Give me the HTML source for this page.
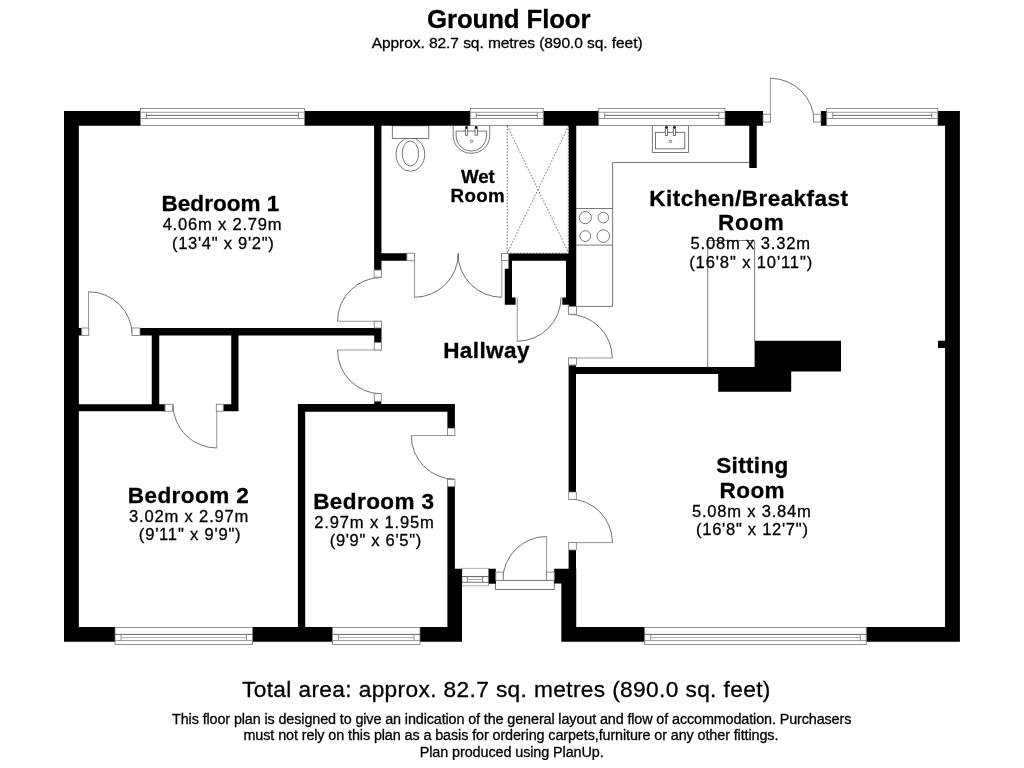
<!DOCTYPE html>
<html><head><meta charset="utf-8"><title>Ground Floor</title>
<style>
html,body{margin:0;padding:0;background:#fff;}
body{width:1024px;height:768px;overflow:hidden;font-family:"Liberation Sans",sans-serif;}
svg{display:block;will-change:transform;}
text{font-family:"Liberation Sans",sans-serif;fill:#000;stroke:#000;stroke-width:0.3px;}
</style></head><body>
<svg width="1024" height="768" viewBox="0 0 1024 768">
<rect width="1024" height="768" fill="#fff"/>
<g fill="none" stroke="#555" stroke-width="0.8">
<rect x="461.9" y="568.3" width="26.7" height="17.5" fill="#fff" stroke="#999"/>
<path d="M461.9 576.6H488.6" stroke="#333"/>
<path d="M461.9 582.3H488.6M467.3 576.6V582.3M482.7 576.6V582.3"/>
<path d="M467.3 579.5H482.7" stroke="#999"/>
<rect x="495.4" y="580.3" width="58.8" height="9.2" fill="#fff"/>
<ellipse cx="410.4" cy="154.4" rx="14.3" ry="16.9" fill="#fff"/>
<ellipse cx="410.4" cy="153.5" rx="8.2" ry="12.5"/>
<rect x="392.3" y="125.75" width="36.5" height="12.7" fill="#fff"/>
<path d="M453.2 125.75V136A18.25 17.3 0 0 0 489.7 136V125.75"/>
<path d="M456.1 131.1H486.5V136A15.2 15.1 0 0 1 456.1 136Z"/>
<rect x="465.3" y="128" width="2.4" height="7.2" fill="#fff"/>
<circle cx="466.5" cy="127.4" r="1.3" fill="#111" stroke="none"/>
<rect x="475.0" y="128" width="2.4" height="7.2" fill="#fff"/>
<circle cx="476.2" cy="127.4" r="1.3" fill="#111" stroke="none"/>
<circle cx="471.5" cy="141.3" r="1.2"/>
<path d="M507.2 125.75V253.2M568.3 125.75V253.2M507.2 253.2H568.75M507.2 125.75L568.75 253.2M568.75 125.75L507.2 253.2" stroke-dasharray="1.6 1.6"/>
<path d="M576.25 306.4H612.6V162.5H749.25"/>
<path d="M576.25 208.5H612.6M576.25 245.1H612.6"/>
<circle cx="585.3" cy="217.6" r="6.1"/>
<circle cx="603.3" cy="217.6" r="5.3"/>
<circle cx="585.3" cy="236.1" r="5.4"/>
<circle cx="603.3" cy="236.1" r="6.3"/>
<rect x="652.3" y="125.5" width="36.3" height="26.9"/>
<rect x="655.4" y="132.3" width="29.4" height="16.5"/>
<rect x="665.3" y="128" width="2.3" height="7.5" fill="#fff"/>
<circle cx="666.4499999999999" cy="127.3" r="1.3" fill="#111" stroke="none"/>
<rect x="673.3" y="128" width="2.3" height="7.5" fill="#fff"/>
<circle cx="674.4499999999999" cy="127.3" r="1.3" fill="#111" stroke="none"/>
<circle cx="670.5" cy="141.4" r="1.2"/>
<path d="M707.7 367V240.5H754.6V341"/>
</g>
<g fill="none" stroke="#333" stroke-width="0.7">
<path d="M88.5 335.5L88.5 291.75" stroke="#6a6a6a"/><path d="M88.5 291.75A43.75 43.75 0 0 1 132.25 335.5"/>
<path d="M216.75 404.25L216.75 448" stroke="#6a6a6a"/><path d="M216.75 448A43.75 43.75 0 0 1 173 404.25"/>
<path d="M381.25 321.25L337.5 321.25" stroke="#6a6a6a"/><path d="M337.5 321.25A43.75 43.75 0 0 1 381.25 277.5"/>
<path d="M381.25 350L337.5 350" stroke="#6a6a6a"/><path d="M337.5 350A43.75 43.75 0 0 0 381.25 393.75"/>
<path d="M414.5 253.5L414.5 297.25" stroke="#6a6a6a"/><path d="M414.5 297.25A43.75 43.75 0 0 0 458.25 253.5"/>
<path d="M501.75 253.5L501.75 297.25" stroke="#6a6a6a"/><path d="M501.75 297.25A43.75 43.75 0 0 1 458 253.5"/>
<path d="M517.25 297.5L517.25 341.25" stroke="#6a6a6a"/><path d="M517.25 341.25A43.75 43.75 0 0 0 561 297.5"/>
<path d="M568.5 358L612.25 358" stroke="#6a6a6a"/><path d="M612.25 358A43.75 43.75 0 0 0 568.5 314.25"/>
<path d="M568.7 542.6L612.45 542.6" stroke="#6a6a6a"/><path d="M612.45 542.6A43.75 43.75 0 0 0 568.7 498.85"/>
<path d="M454.9 435.5L411.2 435.5" stroke="#6a6a6a"/><path d="M411.2 435.5A43.75 43.75 0 0 0 454.9 479.2"/>
<path d="M546.6 580.3L546.6 536.5" stroke="#6a6a6a"/><path d="M546.6 536.5A43.8 43.8 0 0 0 502.8 580.3"/>
<path d="M770.4 122.1L770.4 78.3" stroke="#6a6a6a"/><path d="M770.4 78.3A43.8 43.8 0 0 1 814.2 122.1"/>
</g>
<g fill="#000" stroke="none">
<path d="M64.0 111.05H78.85V641.7H64.0ZM945.05 111.05H959.9V641.7H945.05ZM64.0 111.05H140.5V125.85H64.0ZM304.5 111.05H470.25V125.85H304.5ZM543.25 111.05H598.75V125.85H543.25ZM725 111.05H763V125.85H725ZM820.9 111.05H826.75V125.85H820.9ZM937.8 111.05H959.9V125.85H937.8ZM64.0 627.1H115V641.7H64.0ZM252.5 627.1H332.5V641.7H252.5ZM420 627.1H462V641.7H420ZM561.3 627.1H644.7V641.7H561.3ZM866.25 627.1H959.9V641.7H866.25ZM447.4 568.7H462V641.7H447.4ZM561.3 568.7H576.25V641.7H561.3ZM488.7 568.7H495.8V583.7H488.7ZM554.2 568.7H576.25V583.6H554.2ZM374.1 125.85H381.45V270.1H374.1ZM381.4 253.2H406.9V260.7H381.4ZM568.75 125.85H576.25V306.5H568.75ZM508.5 253.6H569V260.7H508.5ZM508.5 260.6H512V270H508.5ZM504.8 268.8H512V304.7H504.8ZM505 297.5H515.6V304.7H505ZM566 260.5H569V304.7H566ZM562.3 297.5H569V304.7H562.3ZM749.25 125.85H756.75V168H749.25ZM140 328H381.5V335.5H140ZM78.85 328H81.75V335.5H78.85ZM374.25 328H381.5V342.5H374.25ZM151.75 335.5H159.25V411.25H151.75ZM231.25 335.5H238.5V411.25H231.25ZM78.85 404.25H165V411.25H78.85ZM223.25 404.25H238.5V411.25H223.25ZM297.9 404.05H454.9V411.65H297.9ZM297.9 404.05H305.2V628.1H297.9ZM447.4 404.05H454.9V428.2H447.4ZM447.4 486.6H454.9V570H447.4ZM374.25 401.25H381.25V404.5H374.25ZM568.6 367H756V374.1H568.6ZM568.6 365.2H576V492H568.6ZM568.6 550H576V570H568.6ZM754.6 340.75H841V371.6H754.6ZM718.2 367H791.2V391.7H718.2ZM938 340.75H946V348H938Z"/>
</g>
<g fill="none" stroke="#777" stroke-width="0.8">
<rect x="140.5" y="108.4" width="164.0" height="17.1" fill="#fff"/>
<path d="M140.5 112.3L304.5 112.3" stroke="#888"/>
<path d="M140.5 118.5L304.5 118.5" stroke="#777"/>
<path d="M146.5 112.3L146.5 118.5" />
<path d="M298.5 112.3L298.5 118.5" />
<path d="M146.5 115.4L298.5 115.4" stroke="#444"/>
<rect x="470.25" y="108.4" width="73.0" height="17.1" fill="#fff"/>
<path d="M470.25 112.3L543.25 112.3" stroke="#888"/>
<path d="M470.25 118.5L543.25 118.5" stroke="#777"/>
<path d="M476.25 112.3L476.25 118.5" />
<path d="M537.25 112.3L537.25 118.5" />
<path d="M476.25 115.4L537.25 115.4" stroke="#444"/>
<rect x="598.75" y="108.4" width="126.25" height="17.1" fill="#fff"/>
<path d="M598.75 112.3L725 112.3" stroke="#888"/>
<path d="M598.75 118.5L725 118.5" stroke="#777"/>
<path d="M604.75 112.3L604.75 118.5" />
<path d="M719 112.3L719 118.5" />
<path d="M604.75 115.4L719 115.4" stroke="#444"/>
<rect x="826.75" y="108.4" width="111.05" height="17.1" fill="#fff"/>
<path d="M826.75 112.3L937.8 112.3" stroke="#888"/>
<path d="M826.75 118.5L937.8 118.5" stroke="#777"/>
<path d="M832.75 112.3L832.75 118.5" />
<path d="M931.8 112.3L931.8 118.5" />
<path d="M832.75 115.4L931.8 115.4" stroke="#444"/>
<rect x="115" y="627.5" width="137.5" height="16.9" fill="#fff"/>
<path d="M115 640.6L252.5 640.6" stroke="#777"/>
<path d="M115 634.4L252.5 634.4" stroke="#444"/>
<path d="M121 640.6L121 634.4" />
<path d="M246.5 640.6L246.5 634.4" />
<path d="M121 637.6L246.5 637.6" stroke="#999"/>
<rect x="332.5" y="627.5" width="87.5" height="16.9" fill="#fff"/>
<path d="M332.5 640.6L420 640.6" stroke="#777"/>
<path d="M332.5 634.4L420 634.4" stroke="#444"/>
<path d="M338.5 640.6L338.5 634.4" />
<path d="M414 640.6L414 634.4" />
<path d="M338.5 637.6L414 637.6" stroke="#999"/>
<rect x="644.7" y="627.5" width="221.55" height="16.9" fill="#fff"/>
<path d="M644.7 640.6L866.25 640.6" stroke="#777"/>
<path d="M644.7 634.4L866.25 634.4" stroke="#444"/>
<path d="M650.7 640.6L650.7 634.4" />
<path d="M860.25 640.6L860.25 634.4" />
<path d="M650.7 637.6L860.25 637.6" stroke="#999"/>
<rect x="81.75" y="328" width="7.0" height="7.5" fill="#fff"/>
<rect x="132" y="328" width="8" height="7.5" fill="#fff"/>
<rect x="165" y="404.25" width="7.5" height="7.0" fill="#fff"/>
<rect x="216.25" y="404.25" width="7.0" height="7.0" fill="#fff"/>
<rect x="374.1" y="270.1" width="7.35" height="7.1" fill="#fff"/>
<rect x="374.25" y="321.25" width="7.25" height="6.75" fill="#fff"/>
<rect x="374.25" y="342.5" width="7.25" height="7.5" fill="#fff"/>
<rect x="374.25" y="393.75" width="7.0" height="7.5" fill="#fff"/>
<rect x="406.9" y="253.2" width="7.6" height="7.5" fill="#fff"/>
<rect x="501.4" y="253.4" width="7.1" height="7.0" fill="#fff"/>
<rect x="447.4" y="428.2" width="7.5" height="7.3" fill="#fff"/>
<rect x="447.4" y="479.4" width="7.5" height="7.2" fill="#fff"/>
<rect x="568.5" y="306.5" width="8.0" height="7.75" fill="#fff"/>
<rect x="568.5" y="358" width="8.0" height="7" fill="#fff"/>
<rect x="568.7" y="492" width="7.6" height="7.3" fill="#fff"/>
<rect x="568.7" y="542.6" width="7.6" height="7.4" fill="#fff"/>
<rect x="763" y="114.2" width="7.5" height="7.9" fill="#fff"/>
<rect x="813.4" y="114.2" width="7.5" height="7.9" fill="#fff"/>
<rect x="495.8" y="572.1" width="7.4" height="8.2" fill="#fff"/>
<rect x="546.6" y="572.1" width="7.6" height="8.2" fill="#fff"/>
</g>
<g style="filter:opacity(1)">
<text x="427.09" y="27.8" font-size="25.8" letter-spacing="-0.121" font-weight="bold">Ground Floor</text>
<text x="371.7" y="48.2" font-size="15.55" letter-spacing="-0.078">Approx. 82.7 sq. metres (890.0 sq. feet)</text>
<text x="161.49" y="211.4" font-size="22.53" letter-spacing="0.037" font-weight="bold">Bedroom 1</text>
<text x="162.64" y="230.4" font-size="16.57" letter-spacing="0.785">4.06m x 2.79m</text>
<text x="171.92" y="249.0" font-size="16.57" letter-spacing="0.711">(13'4&quot; x 9'2&quot;)</text>
<text x="461.0" y="182.7" font-size="18.75" letter-spacing="-0.119" font-weight="bold">Wet</text>
<text x="450.53" y="201.5" font-size="18.75" letter-spacing="0.332" font-weight="bold">Room</text>
<text x="649.29" y="206.1" font-size="22.53" letter-spacing="0.453" font-weight="bold">Kitchen/Breakfast</text>
<text x="718.09" y="229.5" font-size="22.53" letter-spacing="0.619" font-weight="bold">Room</text>
<text x="690.38" y="249.0" font-size="16.57" letter-spacing="0.848">5.08m x 3.32m</text>
<text x="689.22" y="267.7" font-size="16.57" letter-spacing="0.876">(16'8&quot; x 10'11&quot;)</text>
<text x="443.19" y="357.9" font-size="22.53" letter-spacing="0.394" font-weight="bold">Hallway</text>
<text x="127.79" y="502.8" font-size="22.53" letter-spacing="0.425" font-weight="bold">Bedroom 2</text>
<text x="129.08" y="522.3" font-size="16.57" letter-spacing="0.815">3.02m x 2.97m</text>
<text x="138.82" y="540.4" font-size="16.57" letter-spacing="0.798">(9'11&quot; x 9'9&quot;)</text>
<text x="313.19" y="508.6" font-size="22.53" letter-spacing="0.412" font-weight="bold">Bedroom 3</text>
<text x="314.32" y="528.0" font-size="16.57" letter-spacing="0.828">2.97m x 1.95m</text>
<text x="329.72" y="546.0" font-size="16.57" letter-spacing="0.671">(9'9&quot; x 6'5&quot;)</text>
<text x="716.25" y="473.4" font-size="22.53" letter-spacing="0.337" font-weight="bold">Sitting</text>
<text x="719.59" y="497.6" font-size="22.53" letter-spacing="0.419" font-weight="bold">Room</text>
<text x="691.98" y="516.6" font-size="16.57" letter-spacing="0.773">5.08m x 3.84m</text>
<text x="696.02" y="535.2" font-size="16.57" letter-spacing="0.716">(16'8&quot; x 12'7&quot;)</text>
<text x="241.95" y="697.2" font-size="22.67" letter-spacing="0.385">Total area: approx. 82.7 sq. metres (890.0 sq. feet)</text>
<text x="172.08" y="724.4" font-size="14.39" letter-spacing="-0.118">This floor plan is designed to give an indication of the general layout and flow of accommodation. Purchasers</text>
<text x="243.5" y="740.2" font-size="14.39" letter-spacing="-0.102">must not rely on this plan as a basis for ordering carpets,furniture or any other fittings.</text>
<text x="419.78" y="756.6" font-size="14.39" letter-spacing="-0.087">Plan produced using PlanUp.</text>
</g>
</svg>
</body></html>
